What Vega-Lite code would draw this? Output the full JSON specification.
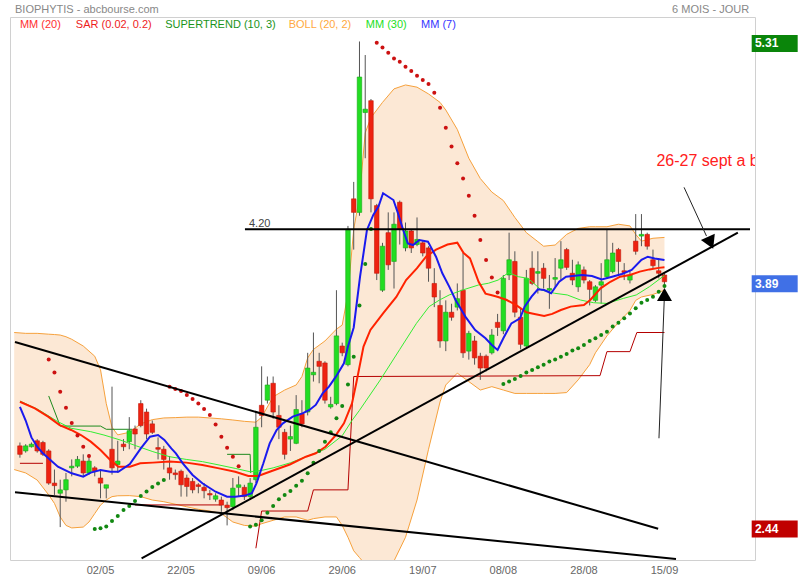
{
  "$schema": "https://vega.github.io/schema/vega-lite/v6.json",
  "width": 745,
  "height": 543,
  "autosize": "none",
  "padding": {"left": 10, "top": 17, "right": 45, "bottom": 20},
  "background": "white",
  "config": {
    "font": "Liberation Sans",
    "view": {"stroke": "#d0d0d0"},
    "axis": {"gridColor": "#e2e2e2", "domain": false, "ticks": false, "labelColor": "#666666", "labelFontSize": 11, "labelFont": "Liberation Sans"}
  },
  "datasets": {
    "candles": [
      {"i":0,"o":2.92,"h":2.94,"l":2.85,"c":2.87},{"i":1,"o":2.89,"h":2.93,"l":2.88,"c":2.92},{"i":2,"o":2.915,"h":2.94,"l":2.91,"c":2.93},{"i":3,"o":2.95,"h":2.96,"l":2.88,"c":2.89},{"i":4,"o":2.94,"h":2.95,"l":2.86,"c":2.87},
      {"i":5,"o":2.89,"h":2.9,"l":2.69,"c":2.7},{"i":6,"o":2.7,"h":2.78,"l":2.63,"c":2.685},{"i":7,"o":2.64,"h":2.72,"l":2.44,"c":2.66},{"i":8,"o":2.66,"h":2.76,"l":2.59,"c":2.72},{"i":9,"o":2.79,"h":2.84,"l":2.74,"c":2.8},
      {"i":10,"o":2.8,"h":2.86,"l":2.79,"c":2.84},{"i":11,"o":2.83,"h":2.87,"l":2.74,"c":2.76},{"i":12,"o":2.76,"h":2.87,"l":2.75,"c":2.83},{"i":13,"o":2.79,"h":2.8,"l":2.74,"c":2.77},{"i":14,"o":2.73,"h":2.78,"l":2.61,"c":2.7},
      {"i":15,"o":2.67,"h":2.69,"l":2.61,"c":2.69},{"i":16,"o":2.9,"h":3.27,"l":2.75,"c":2.79},{"i":17,"o":2.81,"h":2.95,"l":2.76,"c":2.83},{"i":18,"o":2.93,"h":2.96,"l":2.89,"c":2.915},{"i":19,"o":2.945,"h":3.09,"l":2.9,"c":3.01},
      {"i":20,"o":3.02,"h":3.04,"l":2.9,"c":2.99},{"i":21,"o":3.17,"h":3.19,"l":3.03,"c":3.04},{"i":22,"o":3.12,"h":3.14,"l":2.96,"c":2.99},{"i":23,"o":3.05,"h":3.07,"l":2.99,"c":3.0},{"i":24,"o":2.91,"h":2.97,"l":2.84,"c":2.9},
      {"i":25,"o":2.9,"h":2.92,"l":2.78,"c":2.84},{"i":26,"o":2.79,"h":2.86,"l":2.72,"c":2.76},{"i":27,"o":2.76,"h":2.78,"l":2.72,"c":2.75},{"i":28,"o":2.77,"h":2.78,"l":2.62,"c":2.69},{"i":29,"o":2.73,"h":2.75,"l":2.62,"c":2.68},
      {"i":30,"o":2.71,"h":2.73,"l":2.64,"c":2.66},{"i":31,"o":2.69,"h":2.7,"l":2.64,"c":2.68},{"i":32,"o":2.675,"h":2.7,"l":2.61,"c":2.655},{"i":33,"o":2.638,"h":2.66,"l":2.6,"c":2.63},{"i":34,"o":2.605,"h":2.64,"l":2.59,"c":2.625},
      {"i":35,"o":2.6,"h":2.62,"l":2.53,"c":2.57},{"i":36,"o":2.57,"h":2.59,"l":2.45,"c":2.555},{"i":37,"o":2.56,"h":2.73,"l":2.54,"c":2.67},{"i":38,"o":2.675,"h":2.74,"l":2.62,"c":2.69},{"i":39,"o":2.675,"h":2.69,"l":2.6,"c":2.62},
      {"i":40,"o":2.62,"h":2.73,"l":2.6,"c":2.7},{"i":41,"o":2.72,"h":3.12,"l":2.7,"c":3.03},{"i":42,"o":3.16,"h":3.39,"l":3.03,"c":3.1},{"i":43,"o":3.19,"h":3.33,"l":3.17,"c":3.28},{"i":44,"o":3.29,"h":3.33,"l":3.08,"c":3.12},
      {"i":45,"o":3.1,"h":3.16,"l":2.96,"c":3.03},{"i":46,"o":3.0,"h":3.02,"l":2.84,"c":2.87},{"i":47,"o":2.96,"h":3.04,"l":2.89,"c":2.975},{"i":48,"o":2.935,"h":3.22,"l":2.93,"c":3.135},{"i":49,"o":3.11,"h":3.19,"l":3.03,"c":3.05},
      {"i":50,"o":3.12,"h":3.47,"l":3.1,"c":3.38},{"i":51,"o":3.34,"h":3.59,"l":3.3,"c":3.355},{"i":52,"o":3.42,"h":3.47,"l":3.29,"c":3.39},{"i":53,"o":3.41,"h":3.42,"l":3.17,"c":3.19},{"i":54,"o":3.15,"h":3.21,"l":3.14,"c":3.165},
      {"i":55,"o":3.17,"h":3.84,"l":3.16,"c":3.57},{"i":56,"o":3.51,"h":3.53,"l":3.45,"c":3.47},{"i":57,"o":3.4,"h":4.22,"l":3.39,"c":4.2},{"i":58,"o":4.38,"h":4.48,"l":4.08,"c":4.3},{"i":59,"o":4.3,"h":5.31,"l":4.28,"c":5.1},
      {"i":60,"o":4.89,"h":5.23,"l":4.62,"c":4.91},{"i":61,"o":4.96,"h":4.97,"l":4.3,"c":4.38},{"i":62,"o":4.34,"h":4.35,"l":3.9,"c":3.94},{"i":63,"o":3.84,"h":4.12,"l":3.83,"c":4.1},{"i":64,"o":4.18,"h":4.3,"l":3.96,"c":3.99},
      {"i":65,"o":4.01,"h":4.3,"l":3.85,"c":4.23},{"i":66,"o":4.36,"h":4.37,"l":4.11,"c":4.2},{"i":67,"o":4.09,"h":4.24,"l":4.07,"c":4.19},{"i":68,"o":4.19,"h":4.2,"l":4.06,"c":4.09},{"i":69,"o":4.11,"h":4.27,"l":4.1,"c":4.14},
      {"i":70,"o":4.12,"h":4.13,"l":4.04,"c":4.06},{"i":71,"o":4.09,"h":4.1,"l":3.89,"c":3.97},{"i":72,"o":3.88,"h":3.97,"l":3.74,"c":3.8},{"i":73,"o":3.75,"h":3.84,"l":3.5,"c":3.54},{"i":74,"o":3.54,"h":3.78,"l":3.48,"c":3.71},
      {"i":75,"o":3.71,"h":3.76,"l":3.66,"c":3.68},{"i":76,"o":3.74,"h":3.88,"l":3.72,"c":3.79},{"i":77,"o":3.84,"h":4.06,"l":3.44,"c":3.47},{"i":78,"o":3.48,"h":3.6,"l":3.43,"c":3.585},{"i":79,"o":3.54,"h":3.57,"l":3.4,"c":3.44},
      {"i":80,"o":3.45,"h":3.47,"l":3.31,"c":3.38},{"i":81,"o":3.45,"h":3.46,"l":3.36,"c":3.38},{"i":82,"o":3.47,"h":3.61,"l":3.46,"c":3.575},{"i":83,"o":3.65,"h":3.7,"l":3.57,"c":3.62},{"i":84,"o":3.6,"h":3.93,"l":3.58,"c":3.91},
      {"i":85,"o":3.93,"h":4.18,"l":3.9,"c":4.02},{"i":86,"o":4.01,"h":4.07,"l":3.68,"c":3.71},{"i":87,"o":3.68,"h":3.73,"l":3.49,"c":3.52},{"i":88,"o":3.51,"h":3.96,"l":3.5,"c":3.91},{"i":89,"o":3.97,"h":4.07,"l":3.87,"c":3.88},
      {"i":90,"o":3.94,"h":4.07,"l":3.82,"c":3.95},{"i":91,"o":3.97,"h":4.0,"l":3.85,"c":3.91},{"i":92,"o":3.84,"h":3.93,"l":3.73,"c":3.85},{"i":93,"o":3.905,"h":4.03,"l":3.86,"c":3.915},{"i":94,"o":3.97,"h":4.13,"l":3.9,"c":4.02},
      {"i":95,"o":4.08,"h":4.09,"l":3.96,"c":3.975},{"i":96,"o":3.94,"h":4.02,"l":3.87,"c":3.9},{"i":97,"o":3.86,"h":4.01,"l":3.83,"c":3.99},{"i":98,"o":3.96,"h":3.98,"l":3.88,"c":3.9},{"i":99,"o":3.89,"h":3.9,"l":3.75,"c":3.845},
      {"i":100,"o":3.78,"h":3.87,"l":3.77,"c":3.86},{"i":101,"o":3.87,"h":4.0,"l":3.76,"c":3.89},{"i":102,"o":3.92,"h":4.2,"l":3.91,"c":4.02},{"i":103,"o":3.95,"h":4.12,"l":3.94,"c":4.06},{"i":104,"o":4.08,"h":4.09,"l":3.93,"c":4.01},
      {"i":105,"o":3.955,"h":4.0,"l":3.9,"c":3.945},{"i":106,"o":3.9,"h":3.96,"l":3.88,"c":3.93},{"i":107,"o":4.13,"h":4.29,"l":4.05,"c":4.07},{"i":108,"o":4.16,"h":4.29,"l":4.1,"c":4.17},{"i":109,"o":4.17,"h":4.18,"l":4.08,"c":4.1},
      {"i":110,"o":4.02,"h":4.08,"l":3.97,"c":3.985},{"i":111,"o":3.955,"h":4.03,"l":3.91,"c":3.94},{"i":112,"o":3.93,"h":3.94,"l":3.87,"c":3.89}
    ],
    "dates": [
      {"i":14,"d":"02/05"},{"i":28,"d":"22/05"},{"i":42,"d":"09/06"},{"i":56,"d":"29/06"},{"i":70,"d":"19/07"},{"i":84,"d":"08/08"},{"i":98,"d":"28/08"},{"i":112,"d":"15/09"}
    ],
    "boll": [
      {"i":-1,"up":3.59,"lo":2.78},{"i":1,"up":3.585,"lo":2.76},{"i":3,"up":3.585,"lo":2.718},{"i":5,"up":3.58,"lo":2.63},{"i":6,"up":3.578,"lo":2.58},{"i":7,"up":3.575,"lo":2.5},{"i":8,"up":3.565,"lo":2.45},{"i":9,"up":3.55,"lo":2.435},
      {"i":11,"up":3.51,"lo":2.44},{"i":12,"up":3.48,"lo":2.47},{"i":13,"up":3.45,"lo":2.52},{"i":14,"up":3.37,"lo":2.57},{"i":15,"up":3.17,"lo":2.6},{"i":16,"up":3.03,"lo":2.62},{"i":17,"up":2.985,"lo":2.625},{"i":19,"up":3.0,"lo":2.626},
      {"i":21,"up":3.05,"lo":2.62},{"i":23,"up":3.075,"lo":2.6},{"i":25,"up":3.085,"lo":2.59},{"i":27,"up":3.087,"lo":2.575},{"i":29,"up":3.09,"lo":2.56},{"i":31,"up":3.09,"lo":2.545},{"i":33,"up":3.085,"lo":2.535},{"i":35,"up":3.08,"lo":2.52},
      {"i":37,"up":3.073,"lo":2.47},{"i":39,"up":3.065,"lo":2.45},{"i":41,"up":3.06,"lo":2.445},{"i":42,"up":3.09,"lo":2.46},{"i":44,"up":3.21,"lo":2.48},{"i":46,"up":3.25,"lo":2.5},{"i":48,"up":3.28,"lo":2.5},{"i":49,"up":3.33,"lo":2.49},
      {"i":50,"up":3.44,"lo":2.48},{"i":51,"up":3.49,"lo":2.49},{"i":53,"up":3.54,"lo":2.5},{"i":55,"up":3.61,"lo":2.5},{"i":56,"up":3.634,"lo":2.45},{"i":57,"up":3.82,"lo":2.38},{"i":58,"up":4.2,"lo":2.3},{"i":59,"up":4.39,"lo":2.26},
      {"i":60,"up":4.77,"lo":2.22},{"i":61,"up":4.86,"lo":2.21},{"i":63,"up":4.95,"lo":2.2},{"i":65,"up":5.03,"lo":2.24},{"i":67,"up":5.053,"lo":2.38},{"i":69,"up":5.04,"lo":2.6},{"i":71,"up":5.0,"lo":2.9},{"i":73,"up":4.95,"lo":3.18},
      {"i":74,"up":4.905,"lo":3.28},{"i":76,"up":4.79,"lo":3.35},{"i":78,"up":4.62,"lo":3.3},{"i":80,"up":4.5,"lo":3.25},{"i":82,"up":4.42,"lo":3.27},{"i":84,"up":4.37,"lo":3.25},{"i":86,"up":4.27,"lo":3.23},{"i":88,"up":4.18,"lo":3.23},
      {"i":90,"up":4.127,"lo":3.23},{"i":91,"up":4.1,"lo":3.23},{"i":93,"up":4.107,"lo":3.23},{"i":95,"up":4.17,"lo":3.235},{"i":97,"up":4.205,"lo":3.31},{"i":99,"up":4.215,"lo":3.4},{"i":100,"up":4.215,"lo":3.47},{"i":102,"up":4.215,"lo":3.57},
      {"i":104,"up":4.23,"lo":3.65},{"i":106,"up":4.22,"lo":3.72},{"i":107,"up":4.17,"lo":3.78},{"i":108,"up":4.13,"lo":3.8},{"i":110,"up":4.147,"lo":3.815},{"i":112,"up":4.152,"lo":3.84}
    ],
    "mm7": [
      {"i":0,"v":3.15},{"i":1,"v":3.07},{"i":2,"v":2.97},{"i":3,"v":2.915},{"i":4,"v":2.876},{"i":5,"v":2.846},{"i":6.6,"v":2.797},{"i":9,"v":2.758},{"i":11,"v":2.738},{"i":12.3,"v":2.762},{"i":14,"v":2.777},{"i":15.7,"v":2.767},{"i":17.1,"v":2.767},{"i":19.1,"v":2.813},{"i":21,"v":2.905},{"i":22.6,"v":2.974},{"i":24,"v":2.984},{"i":25.1,"v":2.955},{"i":26.3,"v":2.905},{"i":27.1,"v":2.876},{"i":28.3,"v":2.817},{"i":30,"v":2.748},{"i":31.7,"v":2.699},{"i":34,"v":2.649},{"i":36,"v":2.62},{"i":37.4,"v":2.62},{"i":39.1,"v":2.626},{"i":40.3,"v":2.64},{"i":41.1,"v":2.698},{"i":42.3,"v":2.817},{"i":43.4,"v":2.935},{"i":44.6,"v":3.014},{"i":45.7,"v":3.053},{"i":47.4,"v":3.093},{"i":49.1,"v":3.112},{"i":50.3,"v":3.132},{"i":51.4,"v":3.162},{"i":52.6,"v":3.23},{"i":53.7,"v":3.27},{"i":54.9,"v":3.329},{"i":56.3,"v":3.408},{"i":57,"v":3.507},{"i":58,"v":3.62},{"i":59.1,"v":3.92},{"i":60.3,"v":4.196},{"i":61.4,"v":4.285},{"i":62.3,"v":4.334},{"i":63.1,"v":4.413},{"i":64.9,"v":4.373},{"i":65.7,"v":4.294},{"i":66.6,"v":4.196},{"i":67.4,"v":4.117},{"i":68.3,"v":4.107},{"i":69.4,"v":4.137},{"i":70.9,"v":4.127},{"i":72.3,"v":4.038},{"i":73.4,"v":3.94},{"i":74.6,"v":3.861},{"i":75.7,"v":3.782},{"i":77.4,"v":3.684},{"i":79.1,"v":3.605},{"i":80.9,"v":3.556},{"i":82,"v":3.516},{"i":83,"v":3.487},{"i":84,"v":3.556},{"i":85.4,"v":3.644},{"i":86.9,"v":3.674},{"i":87.7,"v":3.743},{"i":88.9,"v":3.802},{"i":90,"v":3.845},{"i":91.1,"v":3.841},{"i":92.3,"v":3.822},{"i":93.7,"v":3.89},{"i":94.9,"v":3.92},{"i":96,"v":3.924},{"i":97.7,"v":3.93},{"i":99.4,"v":3.924},{"i":101.1,"v":3.904},{"i":102.9,"v":3.92},{"i":104.6,"v":3.936},{"i":106.3,"v":3.96},{"i":108,"v":4.019},{"i":109.1,"v":4.038},{"i":110.3,"v":4.028},{"i":112,"v":4.019}
    ],
    "mm20": [
      {"i":0,"v":3.181},{"i":2.6,"v":3.142},{"i":4.9,"v":3.093},{"i":6.9,"v":3.043},{"i":8.9,"v":3.014},{"i":10.6,"v":2.984},{"i":12.3,"v":2.945},{"i":14,"v":2.896},{"i":15.7,"v":2.837},{"i":17.1,"v":2.797},{"i":19.1,"v":2.797},{"i":20.9,"v":2.817},{"i":23.1,"v":2.821},{"i":26,"v":2.827},{"i":28.9,"v":2.821},{"i":31.7,"v":2.807},{"i":34.6,"v":2.787},{"i":37.4,"v":2.767},{"i":39.7,"v":2.742},{"i":41.4,"v":2.742},{"i":43.4,"v":2.767},{"i":46.9,"v":2.81},{"i":49.7,"v":2.856},{"i":51.4,"v":2.876},{"i":53.1,"v":2.915},{"i":54.9,"v":2.984},{"i":56.3,"v":3.053},{"i":57.7,"v":3.171},{"i":58.5,"v":3.3},{"i":59.7,"v":3.507},{"i":60.9,"v":3.605},{"i":63.1,"v":3.703},{"i":65.4,"v":3.8},{"i":67.1,"v":3.9},{"i":69,"v":3.97},{"i":70.6,"v":4.04},{"i":72.3,"v":4.08},{"i":74.3,"v":4.11},{"i":76,"v":4.121},{"i":77.1,"v":4.06},{"i":78.2,"v":4.028},{"i":79.7,"v":3.89},{"i":80.9,"v":3.82},{"i":82,"v":3.81},{"i":83.1,"v":3.8},{"i":84.6,"v":3.782},{"i":86.3,"v":3.75},{"i":88,"v":3.71},{"i":89.4,"v":3.7},{"i":91.1,"v":3.688},{"i":92.5,"v":3.7},{"i":94,"v":3.723},{"i":95.7,"v":3.743},{"i":98,"v":3.753},{"i":99.1,"v":3.782},{"i":100.9,"v":3.851},{"i":102.6,"v":3.89},{"i":104.3,"v":3.92},{"i":106,"v":3.93},{"i":107.7,"v":3.95},{"i":109.4,"v":3.963},{"i":111,"v":3.972},{"i":112,"v":3.975}
    ],
    "mm30": [
      {"i":0,"v":3.185},{"i":3.1,"v":3.136},{"i":6.6,"v":3.063},{"i":8.9,"v":3.024},{"i":12.3,"v":3.004},{"i":14.6,"v":2.984},{"i":17.4,"v":2.955},{"i":20.3,"v":2.919},{"i":23.1,"v":2.886},{"i":26,"v":2.856},{"i":28.9,"v":2.84},{"i":31.7,"v":2.827},{"i":34.6,"v":2.807},{"i":37.4,"v":2.787},{"i":40,"v":2.767},{"i":42,"v":2.775},{"i":44,"v":2.79},{"i":47,"v":2.82},{"i":50,"v":2.86},{"i":53,"v":2.9},{"i":56,"v":2.98},{"i":57.7,"v":3.07},{"i":59,"v":3.13},{"i":62.6,"v":3.309},{"i":66,"v":3.49},{"i":68.9,"v":3.644},{"i":71.1,"v":3.743},{"i":72.9,"v":3.782},{"i":74.6,"v":3.812},{"i":76.9,"v":3.841},{"i":79.7,"v":3.871},{"i":81.4,"v":3.881},{"i":83.1,"v":3.9},{"i":84.9,"v":3.944},{"i":86.6,"v":3.92},{"i":88.3,"v":3.91},{"i":90.6,"v":3.841},{"i":92.9,"v":3.822},{"i":95.1,"v":3.812},{"i":97.4,"v":3.782},{"i":99.7,"v":3.766},{"i":102,"v":3.762},{"i":104.9,"v":3.792},{"i":107.1,"v":3.812},{"i":109.4,"v":3.861},{"i":111.7,"v":3.92},{"i":112,"v":3.925}
    ],
    "sar": [
      {"i":5,"v":3.43,"s":"haut"},{"i":6,"v":3.353,"s":"haut"},{"i":7,"v":3.24,"s":"haut"},{"i":8,"v":3.146,"s":"haut"},{"i":9,"v":3.055,"s":"haut"},{"i":10,"v":2.982,"s":"haut"},{"i":11,"v":2.915,"s":"haut"},{"i":12,"v":2.86,"s":"haut"},
      {"i":13,"v":2.428,"s":"bas"},{"i":14,"v":2.433,"s":"bas"},{"i":15,"v":2.443,"s":"bas"},{"i":16,"v":2.476,"s":"bas"},{"i":17,"v":2.506,"s":"bas"},{"i":18,"v":2.541,"s":"bas"},{"i":19,"v":2.565,"s":"bas"},{"i":20,"v":2.594,"s":"bas"},{"i":21,"v":2.624,"s":"bas"},{"i":22,"v":2.651,"s":"bas"},{"i":23,"v":2.677,"s":"bas"},{"i":24,"v":2.697,"s":"bas"},{"i":25,"v":2.718,"s":"bas"},
      {"i":26,"v":3.27,"s":"haut"},{"i":27,"v":3.256,"s":"haut"},{"i":28,"v":3.244,"s":"haut"},{"i":29,"v":3.221,"s":"haut"},{"i":30,"v":3.197,"s":"haut"},{"i":31,"v":3.171,"s":"haut"},{"i":32,"v":3.138,"s":"haut"},{"i":33,"v":3.102,"s":"haut"},{"i":34,"v":3.047,"s":"haut"},{"i":35,"v":2.974,"s":"haut"},{"i":36,"v":2.909,"s":"haut"},{"i":37,"v":2.856,"s":"haut"},{"i":38,"v":2.8,"s":"haut"},
      {"i":40,"v":2.443,"s":"bas"},{"i":41,"v":2.454,"s":"bas"},{"i":42,"v":2.48,"s":"bas"},{"i":43,"v":2.525,"s":"bas"},{"i":44,"v":2.565,"s":"bas"},{"i":45,"v":2.604,"s":"bas"},{"i":46,"v":2.63,"s":"bas"},{"i":47,"v":2.653,"s":"bas"},{"i":48,"v":2.685,"s":"bas"},{"i":49,"v":2.714,"s":"bas"},{"i":50,"v":2.758,"s":"bas"},{"i":51,"v":2.82,"s":"bas"},{"i":52,"v":2.889,"s":"bas"},{"i":53,"v":2.945,"s":"bas"},{"i":54,"v":3.0,"s":"bas"},{"i":55,"v":3.083,"s":"bas"},{"i":56,"v":3.156,"s":"bas"},{"i":57,"v":3.283,"s":"bas"},{"i":58,"v":3.447,"s":"bas"},{"i":59,"v":3.749,"s":"bas"},{"i":60,"v":3.995,"s":"bas"},{"i":61,"v":4.202,"s":"bas"},
      {"i":62,"v":5.303,"s":"haut"},{"i":63,"v":5.275,"s":"haut"},{"i":64,"v":5.244,"s":"haut"},{"i":65,"v":5.21,"s":"haut"},{"i":66,"v":5.19,"s":"haut"},{"i":67,"v":5.161,"s":"haut"},{"i":68,"v":5.135,"s":"haut"},{"i":69,"v":5.108,"s":"haut"},{"i":70,"v":5.082,"s":"haut"},{"i":71,"v":5.059,"s":"haut"},{"i":72,"v":5.007,"s":"haut"},{"i":73,"v":4.919,"s":"haut"},{"i":74,"v":4.8,"s":"haut"},{"i":75,"v":4.69,"s":"haut"},{"i":76,"v":4.59,"s":"haut"},{"i":77,"v":4.5,"s":"haut"},{"i":78,"v":4.399,"s":"haut"},{"i":79,"v":4.28,"s":"haut"},{"i":80,"v":4.137,"s":"haut"},{"i":81,"v":4.018,"s":"haut"},{"i":82,"v":3.915,"s":"haut"},{"i":83,"v":3.827,"s":"haut"},
      {"i":84,"v":3.286,"s":"bas"},{"i":85,"v":3.3,"s":"bas"},{"i":86,"v":3.315,"s":"bas"},{"i":87,"v":3.333,"s":"bas"},{"i":88,"v":3.353,"s":"bas"},{"i":89,"v":3.368,"s":"bas"},{"i":90,"v":3.384,"s":"bas"},{"i":91,"v":3.4,"s":"bas"},{"i":92,"v":3.418,"s":"bas"},{"i":93,"v":3.43,"s":"bas"},{"i":94,"v":3.447,"s":"bas"},{"i":95,"v":3.463,"s":"bas"},{"i":96,"v":3.483,"s":"bas"},{"i":97,"v":3.497,"s":"bas"},{"i":98,"v":3.516,"s":"bas"},{"i":99,"v":3.54,"s":"bas"},{"i":100,"v":3.556,"s":"bas"},{"i":101,"v":3.575,"s":"bas"},{"i":102,"v":3.595,"s":"bas"},{"i":103,"v":3.625,"s":"bas"},{"i":104,"v":3.648,"s":"bas"},{"i":105,"v":3.674,"s":"bas"},{"i":106,"v":3.703,"s":"bas"},{"i":107,"v":3.733,"s":"bas"},{"i":108,"v":3.766,"s":"bas"},{"i":109,"v":3.782,"s":"bas"},{"i":110,"v":3.802,"s":"bas"},{"i":111,"v":3.831,"s":"bas"},{"i":112,"v":3.865,"s":"bas"}
    ],
    "st_rouge": [
      {"i":0,"v":2.817,"seg":1},{"i":4,"v":2.817,"seg":1},
      {"i":20,"v":2.571,"seg":2},{"i":35,"v":2.571,"seg":2},
      {"i":41,"v":2.315,"seg":3},{"i":42,"v":2.535,"seg":3},{"i":50,"v":2.535,"seg":3},{"i":51,"v":2.66,"seg":3},{"i":57,"v":2.66,"seg":3},{"i":58,"v":3.33,"seg":3},{"i":100.8,"v":3.335,"seg":3},{"i":102,"v":3.477,"seg":3},{"i":106,"v":3.477,"seg":3},{"i":107.2,"v":3.59,"seg":3},{"i":112,"v":3.59,"seg":3}
    ],
    "st_vert": [
      {"i":5,"v":3.215,"seg":1},{"i":7,"v":3.037,"seg":1},{"i":14,"v":3.037,"seg":1},{"i":15,"v":3.018,"seg":1},{"i":19.5,"v":3.018,"seg":1},
      {"i":36,"v":2.87,"seg":2},{"i":40,"v":2.87,"seg":2},{"i":40.1,"v":2.76,"seg":2}
    ],
    "traits": [
      {"i1":-0.857,"p1":3.534,"i2":110.9,"p2":2.4305},
      {"i1":-0.857,"p1":2.646,"i2":114.0,"p2":2.2514},
      {"i1":21.14,"p1":2.2556,"i2":124.75,"p2":4.18},
      {"i1":39.1,"p1":4.2,"i2":126.86,"p2":4.2}
    ],
    "fleches": [
      {"i1":115.4,"p1":4.448,"i2":119.3,"p2":4.16},
      {"i1":111.04,"p1":2.965,"i2":112.0,"p2":3.82}
    ],
    "reperes": [
      {"k":"plus haut","v":5.31},{"k":"dernier","v":3.89},{"k":"plus bas","v":2.44}
    ]
  },
  "layer": [
    {
      "data": {"name": "boll"},
      "mark": {"type": "area", "color": "#f9c99a", "opacity": 0.42, "clip": true},
      "encoding": {
        "x": {"field": "i", "type": "quantitative", "scale": {"domain": [-0.857, 126.86], "nice": false, "zero": false},
              "axis": {"orient": "bottom", "labels": false, "values": [14, 28, 42, 56, 70, 84, 98, 112], "grid": true, "title": null}},
        "y": {"field": "up", "type": "quantitative", "scale": {"domain": [2.2455, 5.4547], "nice": false, "zero": false},
              "axis": {"orient": "right", "values": [2.4, 2.7, 3.0, 3.3, 3.6, 3.9, 4.2, 4.5, 4.8, 5.1, 5.4], "format": ".2f", "grid": true, "labelPadding": 5, "title": null}},
        "y2": {"field": "lo"}
      }
    },
    {
      "data": {"name": "boll"},
      "mark": {"type": "line", "color": "#f6a13c", "strokeWidth": 1, "clip": true},
      "encoding": {"x": {"field": "i", "type": "quantitative", "axis": null}, "y": {"field": "up", "type": "quantitative", "axis": null}}
    },
    {
      "data": {"name": "boll"},
      "mark": {"type": "line", "color": "#f6a13c", "strokeWidth": 1, "clip": true},
      "encoding": {"x": {"field": "i", "type": "quantitative", "axis": null}, "y": {"field": "lo", "type": "quantitative", "axis": null}}
    },
    {
      "data": {"name": "st_rouge"},
      "mark": {"type": "line", "color": "#b40000", "strokeWidth": 1, "clip": true},
      "encoding": {"x": {"field": "i", "type": "quantitative", "axis": null}, "y": {"field": "v", "type": "quantitative", "axis": null}, "detail": {"field": "seg", "type": "nominal"}}
    },
    {
      "data": {"name": "st_vert"},
      "mark": {"type": "line", "color": "#1d8a1d", "strokeWidth": 1, "clip": true},
      "encoding": {"x": {"field": "i", "type": "quantitative", "axis": null}, "y": {"field": "v", "type": "quantitative", "axis": null}, "detail": {"field": "seg", "type": "nominal"}}
    },
    {
      "data": {"name": "candles"},
      "mark": {"type": "rule", "color": "#555555", "strokeWidth": 1, "clip": true},
      "encoding": {"x": {"field": "i", "type": "quantitative", "axis": null}, "y": {"field": "l", "type": "quantitative", "axis": null}, "y2": {"field": "h"}}
    },
    {
      "data": {"name": "candles"},
      "mark": {"type": "bar", "size": 4.5, "strokeWidth": 0.6, "clip": true},
      "encoding": {
        "x": {"field": "i", "type": "quantitative", "axis": null},
        "y": {"field": "o", "type": "quantitative", "axis": null},
        "y2": {"field": "c"},
        "fill": {"condition": {"test": "datum.c >= datum.o", "value": "#22dd22"}, "value": "#ee2211"},
        "stroke": {"condition": {"test": "datum.c >= datum.o", "value": "#17a817"}, "value": "#c21a0c"}
      }
    },
    {
      "data": {"name": "mm30"},
      "mark": {"type": "line", "color": "#33ee33", "strokeWidth": 1, "clip": true},
      "encoding": {"x": {"field": "i", "type": "quantitative", "axis": null}, "y": {"field": "v", "type": "quantitative", "axis": null}}
    },
    {
      "data": {"name": "mm20"},
      "mark": {"type": "line", "color": "#ff2200", "strokeWidth": 2, "clip": true},
      "encoding": {"x": {"field": "i", "type": "quantitative", "axis": null}, "y": {"field": "v", "type": "quantitative", "axis": null}}
    },
    {
      "data": {"name": "mm7"},
      "mark": {"type": "line", "color": "#1a1aee", "strokeWidth": 2, "clip": true},
      "encoding": {"x": {"field": "i", "type": "quantitative", "axis": null}, "y": {"field": "v", "type": "quantitative", "axis": null}}
    },
    {
      "data": {"name": "sar"},
      "mark": {"type": "circle", "size": 16, "opacity": 1, "clip": true},
      "encoding": {
        "x": {"field": "i", "type": "quantitative", "axis": null},
        "y": {"field": "v", "type": "quantitative", "axis": null},
        "fill": {"condition": {"test": "datum.s == 'haut'", "value": "#cc1111"}, "value": "#118811"}
      }
    },
    {
      "data": {"name": "traits"},
      "mark": {"type": "rule", "color": "#000000", "strokeWidth": 2, "clip": true},
      "encoding": {"x": {"field": "i1", "type": "quantitative", "axis": null}, "y": {"field": "p1", "type": "quantitative", "axis": null}, "x2": {"field": "i2"}, "y2": {"field": "p2"}}
    },
    {
      "data": {"name": "fleches"},
      "mark": {"type": "rule", "color": "#222222", "strokeWidth": 1, "clip": true},
      "encoding": {"x": {"field": "i1", "type": "quantitative", "axis": null}, "y": {"field": "p1", "type": "quantitative", "axis": null}, "x2": {"field": "i2"}, "y2": {"field": "p2"}}
    },
    {
      "data": {"values": [{"f": "fleche 1"}]},
      "mark": {"type": "point", "shape": "triangle-up", "filled": true, "color": "#000000", "size": 230, "angle": 156, "opacity": 1},
      "encoding": {"x": {"datum": 120.0, "type": "quantitative", "axis": null}, "y": {"datum": 4.12, "type": "quantitative", "axis": null}}
    },
    {
      "data": {"values": [{"f": "fleche 2"}]},
      "mark": {"type": "point", "shape": "triangle-up", "filled": true, "color": "#000000", "size": 225, "opacity": 1},
      "encoding": {"x": {"datum": 112.0, "type": "quantitative", "axis": null}, "y": {"datum": 3.815, "type": "quantitative", "axis": null}}
    },
    {
      "data": {"values": [{"t": "4.20"}]},
      "mark": {"type": "text", "align": "left", "baseline": "alphabetic", "fontSize": 11, "color": "#444444", "dy": -2},
      "encoding": {"x": {"datum": 39.8, "type": "quantitative", "axis": null}, "y": {"datum": 4.2, "type": "quantitative", "axis": null}, "text": {"field": "t"}}
    },
    {
      "data": {"values": [{"t": "26-27 sept a b"}]},
      "mark": {"type": "text", "align": "left", "baseline": "alphabetic", "fontSize": 16, "color": "#ff2020", "clip": true},
      "encoding": {"x": {"datum": 110.6, "type": "quantitative", "axis": null}, "y": {"datum": 4.574, "type": "quantitative", "axis": null}, "text": {"field": "t"}}
    },
    {
      "data": {"name": "reperes"},
      "mark": {"type": "tick", "orient": "horizontal", "size": 46, "thickness": 17, "opacity": 1, "yOffset": 2},
      "encoding": {
        "x": {"datum": 131.15, "type": "quantitative", "axis": null},
        "y": {"field": "v", "type": "quantitative", "axis": null},
        "fill": {"field": "k", "type": "nominal", "scale": {"domain": ["plus haut", "dernier", "plus bas"], "range": ["#0a850a", "#4070e6", "#c00000"]}, "legend": null}
      }
    },
    {
      "data": {"name": "reperes"},
      "mark": {"type": "text", "align": "left", "baseline": "middle", "fontSize": 12, "fontWeight": "bold", "color": "#ffffff", "dy": 2},
      "encoding": {
        "x": {"datum": 127.72, "type": "quantitative", "axis": null},
        "y": {"field": "v", "type": "quantitative", "axis": null},
        "text": {"field": "v", "type": "quantitative", "format": ".2f"}
      }
    },
    {
      "data": {"name": "dates"},
      "mark": {"type": "text", "align": "center", "baseline": "top", "fontSize": 11, "color": "#666666", "dy": 5},
      "encoding": {"x": {"field": "i", "type": "quantitative", "axis": null}, "y": {"datum": 2.2455, "type": "quantitative", "axis": null}, "text": {"field": "d"}}
    },
    {
      "data": {"values": [{"t": "BIOPHYTIS - abcbourse.com"}]},
      "mark": {"type": "text", "align": "left", "baseline": "alphabetic", "fontSize": 11, "color": "#888888"},
      "encoding": {"x": {"datum": -0.857, "type": "quantitative", "axis": null}, "y": {"datum": 5.478, "type": "quantitative", "axis": null}, "text": {"field": "t"}}
    },
    {
      "data": {"values": [{"t": "6 MOIS - JOUR"}]},
      "mark": {"type": "text", "align": "right", "baseline": "alphabetic", "fontSize": 11, "color": "#888888"},
      "encoding": {"x": {"datum": 126.7, "type": "quantitative", "axis": null}, "y": {"datum": 5.478, "type": "quantitative", "axis": null}, "text": {"field": "t"}}
    },
    {
      "data": {"values": [{"t": "MM (20)"}]},
      "mark": {"type": "text", "align": "left", "baseline": "middle", "fontSize": 11, "color": "#ff3030"},
      "encoding": {"x": {"datum": 0, "type": "quantitative", "axis": null}, "y": {"datum": 5.4074, "type": "quantitative", "axis": null}, "text": {"field": "t"}}
    },
    {
      "data": {"values": [{"t": "SAR (0.02, 0.2)"}]},
      "mark": {"type": "text", "align": "left", "baseline": "middle", "fontSize": 11, "color": "#ee1c1c"},
      "encoding": {"x": {"datum": 9.72, "type": "quantitative", "axis": null}, "y": {"datum": 5.4074, "type": "quantitative", "axis": null}, "text": {"field": "t"}}
    },
    {
      "data": {"values": [{"t": "SUPERTREND (10, 3)"}]},
      "mark": {"type": "text", "align": "left", "baseline": "middle", "fontSize": 11, "color": "#1a941a"},
      "encoding": {"x": {"datum": 25.25, "type": "quantitative", "axis": null}, "y": {"datum": 5.4074, "type": "quantitative", "axis": null}, "text": {"field": "t"}}
    },
    {
      "data": {"values": [{"t": "BOLL (20, 2)"}]},
      "mark": {"type": "text", "align": "left", "baseline": "middle", "fontSize": 11, "color": "#ffa940"},
      "encoding": {"x": {"datum": 46.7, "type": "quantitative", "axis": null}, "y": {"datum": 5.4074, "type": "quantitative", "axis": null}, "text": {"field": "t"}}
    },
    {
      "data": {"values": [{"t": "MM (30)"}]},
      "mark": {"type": "text", "align": "left", "baseline": "middle", "fontSize": 11, "color": "#22e022"},
      "encoding": {"x": {"datum": 60.1, "type": "quantitative", "axis": null}, "y": {"datum": 5.4074, "type": "quantitative", "axis": null}, "text": {"field": "t"}}
    },
    {
      "data": {"values": [{"t": "MM (7)"}]},
      "mark": {"type": "text", "align": "left", "baseline": "middle", "fontSize": 11, "color": "#3535ff"},
      "encoding": {"x": {"datum": 69.7, "type": "quantitative", "axis": null}, "y": {"datum": 5.4074, "type": "quantitative", "axis": null}, "text": {"field": "t"}}
    }
  ]
}
